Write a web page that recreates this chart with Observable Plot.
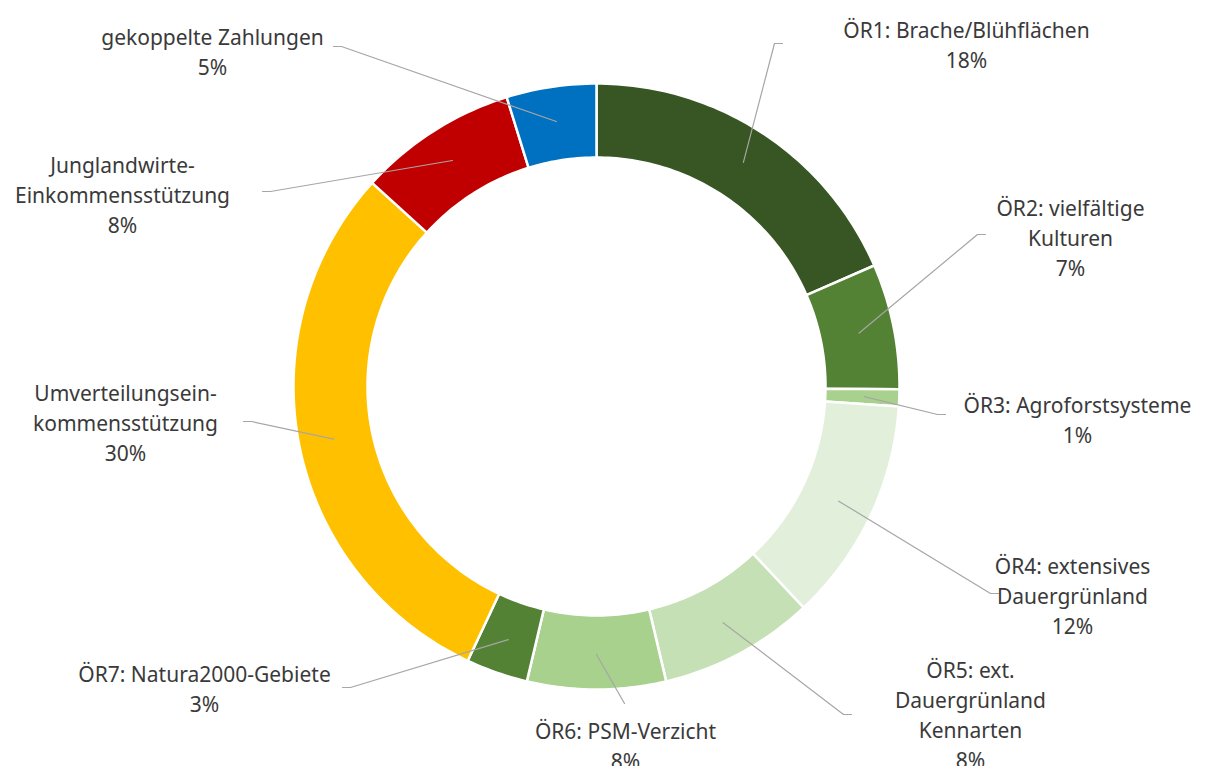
<!DOCTYPE html>
<html>
<head>
<meta charset="utf-8">
<script src="https://cdn.jsdelivr.net/npm/d3@7"></script>
<script src="https://cdn.jsdelivr.net/npm/@observablehq/plot@0.6"></script>
<style>
  html, body { margin: 0; padding: 0; background: #fff; }
  #chart svg { display: block; }
</style>
</head>
<body>
<div id="chart"></div>
<script>
// ---- Data ----
const categories = [
  "ÖR1: Brache/Blühflächen",
  "ÖR2: vielfältige\nKulturen",
  "ÖR3: Agroforstsysteme",
  "ÖR4: extensives\nDauergrünland",
  "ÖR5: ext.\nDauergrünland\nKennarten",
  "ÖR6: PSM-Verzicht",
  "ÖR7: Natura2000-Gebiete",
  "Umverteilungsein-\nkommensstützung",
  "Junglandwirte-\nEinkommensstützung",
  "gekoppelte Zahlungen"
];
const shares = [18.5, 6.7, 0.9, 12.0, 8.3, 7.4, 3.3, 29.8, 8.5, 4.8];
const shareLabels = ["18%", "7%", "1%", "12%", "8%", "8%", "3%", "30%", "8%", "5%"];
const colors = ["#375623", "#548235", "#a9d18e", "#e2efda", "#c5e0b4", "#a9d18e", "#548235", "#ffc000", "#c00000", "#0070c0"];

// ---- Layout (pixel positions of the label blocks and leader elbows) ----
const cx = 596, cy = 386, rOuter = 303, rInner = 229, rLeader = 268;
const labelX = [966, 1070, 1077, 1072, 970, 625, 204, 125, 122, 212];
const labelY = [43, 236, 418, 594, 713, 744, 687, 421, 193, 50];
const elbowX = [774, 977, 937, 990, 843, null, 350, 251, 270, 341];
const elbowY = [43, 234, 414, 593, 714, null, 687, 421, 191, 46];
const endX   = [782, 985, 945, 998, 851, 624, 342, 243, 262, 333];
const endY   = [43, 234, 414, 593, 714, 703, 687, 421, 191, 46];

const total = d3.sum(shares);
const pt = (a, r) => ({x: cx + r * Math.sin(a), y: cy - r * Math.cos(a)});

const slices = [];
const leaders = [];
let acc = 0;
categories.forEach((key, i) => {
  const a0 = acc / total * 2 * Math.PI;
  acc += shares[i];
  const a1 = acc / total * 2 * Math.PI;
  const n = Math.max(2, Math.ceil((a1 - a0) / (Math.PI / 180)));
  const pts = [];
  for (let k = 0; k <= n; k++) pts.push(pt(a0 + (a1 - a0) * k / n, rOuter));
  for (let k = n; k >= 0; k--) pts.push(pt(a0 + (a1 - a0) * k / n, rInner));
  pts.push(pts[0]);
  pts.forEach(p => slices.push({key, ...p}));
  const am = (a0 + a1) / 2;
  const s = pt(am, rLeader);
  leaders.push({key, ...s});
  if (elbowX[i] != null) leaders.push({key, x: elbowX[i], y: elbowY[i]});
  leaders.push({key, x: endX[i], y: endY[i]});
});

const labelData = categories.map((c, i) => ({
  key: c, text: c + "\n" + shareLabels[i], x: labelX[i], y: labelY[i]
}));

const chart = Plot.plot({
  width: 1205,
  height: 766,
  margin: 0,
  x: {domain: [0, 1205], range: [0, 1205], axis: null},
  y: {domain: [0, 766], range: [0, 766], axis: null},
  color: {domain: categories, range: colors},
  style: {fontFamily: "'Noto Sans', sans-serif", background: "#fff"},
  marks: [
    Plot.line(slices, {x: "x", y: "y", z: "key", fill: "key", stroke: "#fff", strokeWidth: 2.5, curve: "linear"}),
    Plot.line(leaders, {x: "x", y: "y", z: "key", stroke: "#a6a6a6", strokeWidth: 1.2}),
    Plot.text(labelData, {x: "x", y: "y", text: "text", lineAnchor: "middle", lineHeight: 1.43, fontSize: 21, fill: "#3a3a3a", textAnchor: "middle"})
  ]
});
document.getElementById("chart").appendChild(chart);
</script>
</body>
</html>
